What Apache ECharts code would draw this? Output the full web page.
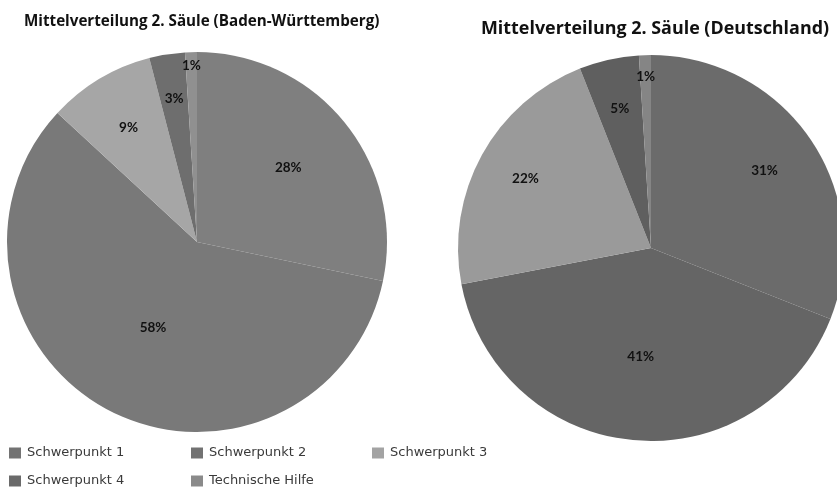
<!DOCTYPE html>
<html>
<head>
<meta charset="utf-8">
<script src="https://cdn.jsdelivr.net/npm/echarts@6/dist/echarts.min.js"></script>
<style>html,body{margin:0;padding:0;background:#fff}#c{width:837px;height:488px}</style>
</head>
<body>
<div id="c"></div>
<script>
const categories = ['Schwerpunkt 1', 'Schwerpunkt 2', 'Schwerpunkt 3', 'Schwerpunkt 4', 'Technische Hilfe'];
const valuesBW = [28, 58, 9, 3, 1];
const valuesDE = [31, 41, 22, 5, 1];
const titleBW = 'Mittelverteilung 2. Säule (Baden-Württemberg)';
const titleDE = 'Mittelverteilung 2. Säule (Deutschland)';

const colorsBW = ['#7f7f7f', '#797979', '#a6a6a6', '#6e6e6e', '#909090'];
const colorsDE = ['#6b6b6b', '#656565', '#9a9a9a', '#5f5f5f', '#858585'];
const legendColors = ['#737373', '#727272', '#a3a3a3', '#6a6a6a', '#8a8a8a'];
// radial label position (fraction of radius), like Excel best-fit
const labelFracBW = [0.6, 0.49, 0.68, 0.74, 0.9];
const labelFracDE = [0.69, 0.55, 0.72, 0.72, 0.86];

const centerBW = [197, 242], radiusBW = 190;
const centerDE = [651, 248], radiusDE = 193;

function makeLayout(center, fracs) {
  return function (p) {
    const r = p.labelRect;
    const cx = r.x + r.width / 2, cy = r.y + r.height / 2;
    const k = fracs[p.dataIndex] / 0.5;
    const nx = center[0] + (cx - center[0]) * k;
    const ny = center[1] + (cy - center[1]) * k;
    return { dx: nx - cx, dy: ny - cy };
  };
}

function pieSeries(vals, colors, center, radius, fracs) {
  return {
    type: 'pie',
    center: center,
    radius: radius,
    startAngle: 90,
    clockwise: true,
    avoidLabelOverlap: false,
    label: {
      show: true, position: 'inside', formatter: '{c}%',
      fontFamily: 'Lato', fontWeight: 'bold', fontSize: 13.5, color: '#111'
    },
    labelLine: { show: false },
    itemStyle: { borderWidth: 0 },
    emphasis: { disabled: true },
    labelLayout: makeLayout(center, fracs),
    data: categories.map((n, i) => ({ name: n, value: vals[i], itemStyle: { color: colors[i] } }))
  };
}

const legendPos = [[9, 446.5], [191, 446.5], [372, 446.5], [9, 474.5], [191, 474.5]];
const legends = categories.map((n, i) => ({
  left: legendPos[i][0], top: legendPos[i][1], padding: 0,
  orient: 'horizontal', icon: 'rect', itemWidth: 12, itemHeight: 11, itemGap: 5,
  selectedMode: false,
  textStyle: { fontFamily: 'DejaVu Sans', fontSize: 13, color: '#3a3a3a', padding: [0, 0, 0, 1] },
  data: [{ name: n, itemStyle: { color: legendColors[i] } }]
}));

const chart = echarts.init(document.getElementById('c'));
chart.setOption({
  animation: false,
  title: [
    { text: titleBW, left: 19, top: 9, textStyle: { fontFamily: 'Open Sans', fontWeight: 'bold', fontSize: 15.2, color: '#111' } },
    { text: titleDE, left: 476, top: 15, textStyle: { fontFamily: 'Open Sans', fontWeight: 'bold', fontSize: 17.9, color: '#111' } }
  ],
  legend: legends,
  series: [
    pieSeries(valuesBW, colorsBW, centerBW, radiusBW, labelFracBW),
    pieSeries(valuesDE, colorsDE, centerDE, radiusDE, labelFracDE)
  ]
});
</script>
</body>
</html>
